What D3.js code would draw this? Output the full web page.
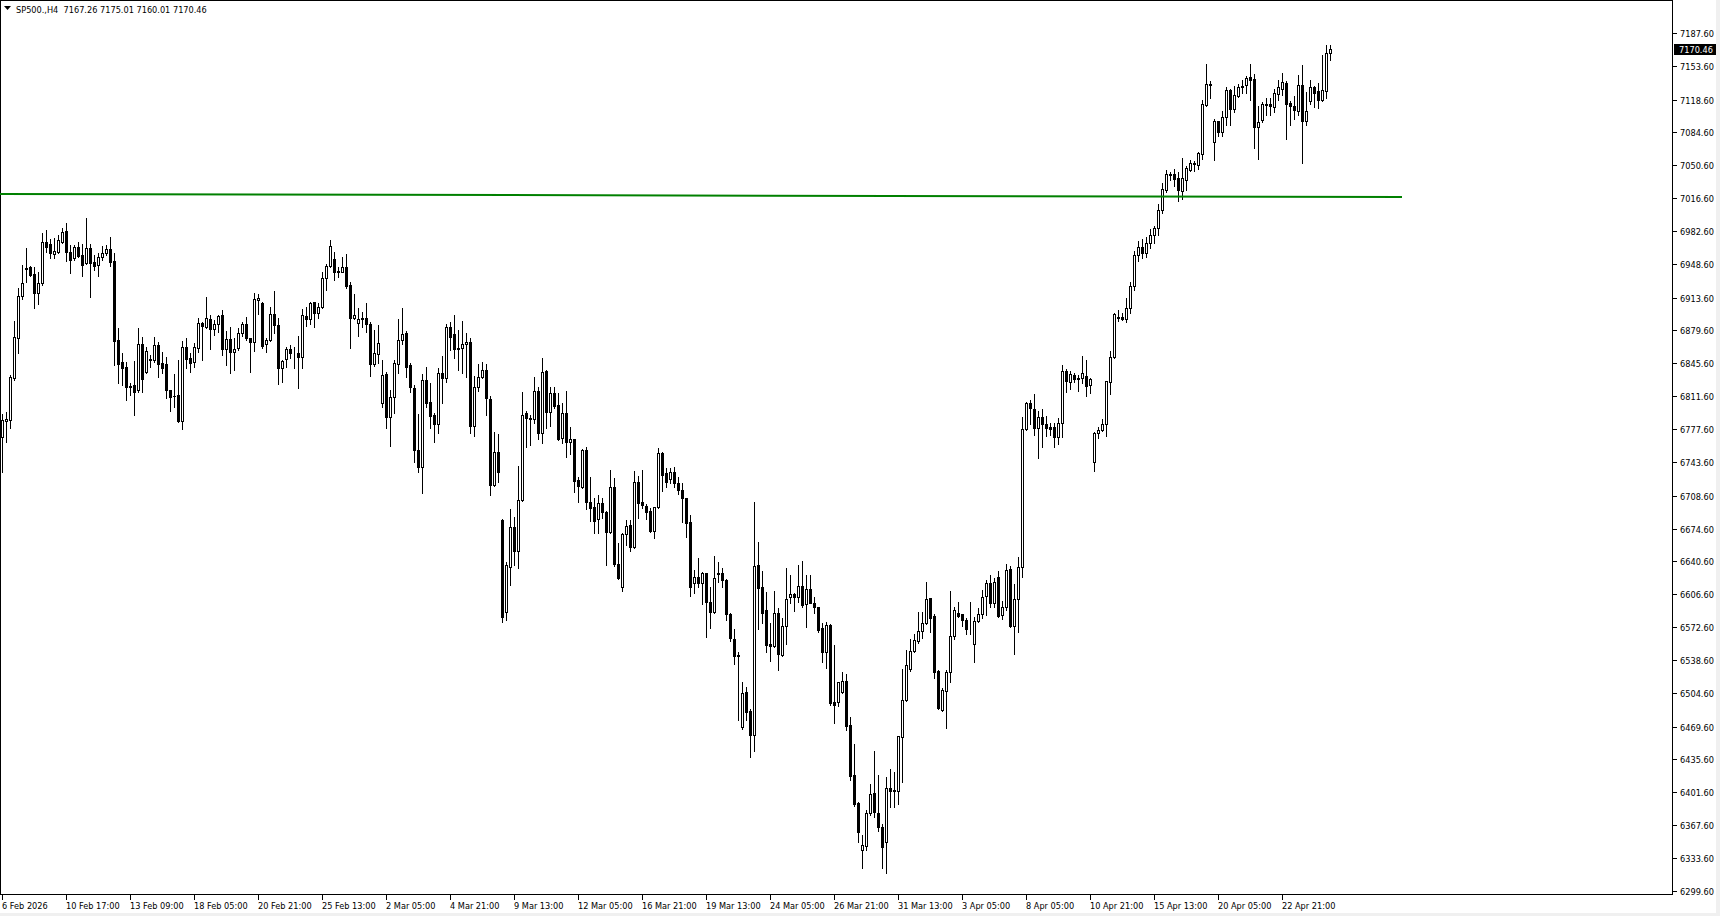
<!DOCTYPE html>
<html>
<head>
<meta charset="utf-8">
<script src="https://cdn.jsdelivr.net/npm/d3@7"></script>
<style>
  html, body { margin: 0; padding: 0; background: #fff; }
  #chart { width: 1720px; height: 916px; }
  text { font-family: "DejaVu Sans", Verdana, sans-serif; }
</style>
</head>
<body>
<div id="chart"></div>
<script>
// SP500 H4 candles (open / high / low / close)
const open = [6769.0,6786.0,6787.0,6830.1,6872.2,6915.7,6944.5,6945.7,6938.1,6918.8,6928.4,6970.9,6968.8,6959.1,6961.2,6971.6,6982.6,6960.5,6954.3,6966.0,6957.8,6949.1,6964.7,6950.2,6947.4,6955.3,6959.5,6964.0,6951.5,6869.8,6847.0,6841.8,6822.2,6823.2,6817.7,6865.6,6836.3,6848.7,6848.7,6864.6,6846.0,6844.6,6818.0,6812.2,6812.9,6786.3,6862.2,6851.5,6847.4,6861.2,6887.7,6883.6,6891.2,6880.8,6886.0,6895.7,6860.5,6870.8,6857.7,6861.8,6876.7,6886.3,6871.5,6868.1,6911.5,6907.7,6865.3,6869.8,6896.3,6885.3,6840.4,6849.8,6860.1,6856.0,6856.0,6851.8,6894.6,6891.5,6908.8,6897.4,6903.6,6933.6,6946.4,6953.6,6940.5,6940.5,6944.9,6926.6,6892.2,6887.7,6891.8,6892.2,6885.9,6844.5,6854.9,6804.2,6834.5,6790.4,6810.4,6844.5,6869.7,6876.6,6843.9,6819.7,6755.9,6737.9,6828.3,6805.9,6792.1,6782.4,6835.2,6830.7,6882.8,6875.6,6860.1,6861.1,6865.2,6867.3,6781.1,6821.4,6831.1,6838.7,6808.7,6719.7,6753.5,6683.4,6588.0,6635.2,6675.9,6651.7,6704.2,6794.6,6788.4,6788.0,6817.0,6773.2,6837.7,6795.6,6814.6,6802.5,6768.0,6793.9,6763.9,6767.0,6724.9,6718.0,6755.9,6702.5,6696.6,6684.5,6700.7,6692.1,6671.4,6717.3,6637.9,6613.8,6668.6,6678.3,6655.9,6723.1,6701.8,6697.9,6692.8,6672.4,6696.6,6752.5,6731.8,6726.0,6733.0,6722.0,6714.5,6705.9,6681.0,6617.9,6624.1,6618.6,6628.3,6598.9,6587.9,6627.9,6628.3,6621.4,6585.8,6559.9,6543.7,6468.9,6505.1,6486.1,6460.9,6636.9,6614.5,6590.3,6555.1,6553.4,6586.9,6543.7,6573.7,6604.1,6606.5,6603.4,6615.5,6596.2,6611.7,6597.9,6593.1,6572.0,6547.2,6574.8,6494.7,6495.4,6505.1,6516.8,6471.3,6419.5,6390.2,6341.9,6346.4,6379.8,6400.5,6379.8,6365.3,6350.5,6405.7,6403.3,6403.3,6459.2,6497.1,6528.9,6547.8,6558.2,6568.5,6576.5,6602.3,6584.1,6527.1,6486.8,6506.8,6526.5,6563.4,6586.8,6585.8,6579.9,6570.6,6554.7,6578.9,6585.8,6605.1,6617.9,6597.3,6624.2,6585.2,6593.8,6632.4,6574.2,6601.4,6634.5,6777.3,6804.3,6798.4,6778.4,6789.8,6782.9,6779.4,6779.4,6769.8,6783.6,6837.7,6826.0,6833.6,6830.1,6830.1,6832.9,6822.9,6743.2,6773.2,6776.7,6782.5,6826.7,6851.9,6892.2,6893.3,6891.2,6902.6,6926.0,6958.0,6966.0,6960.0,6970.0,6978.0,6985.7,7004.6,7025.3,7040.9,7041.5,7037.4,7024.3,7035.7,7045.3,7051.9,7051.2,7062.6,7113.3,7134.7,7074.3,7096.1,7085.0,7100.2,7128.1,7109.2,7121.9,7131.2,7133.3,7141.6,7139.9,7089.8,7097.8,7113.3,7114.0,7110.5,7124.7,7129.9,7135.7,7115.0,7111.6,7107.1,7133.3,7096.7,7116.7,7131.2,7127.8,7118.5,7127.8,7167.26];
const high = [6792.8,6795.6,6833.6,6889.4,6923.3,6947.4,6964.7,6946.7,6945.7,6940.5,6980.2,6983.6,6974.0,6975.0,6978.5,6985.4,6990.5,6968.1,6968.1,6971.5,6968.8,6995.7,6968.8,6957.8,6959.5,6966.7,6968.1,6976.0,6959.5,6881.9,6856.0,6847.4,6824.9,6848.0,6881.9,6873.2,6862.9,6854.3,6872.5,6868.0,6857.7,6852.5,6818.5,6834.6,6849.1,6868.7,6871.5,6856.0,6866.3,6892.2,6888.7,6914.6,6895.7,6890.5,6895.7,6900.8,6879.1,6882.9,6871.5,6881.8,6888.7,6893.2,6872.2,6918.1,6917.0,6908.8,6871.5,6903.6,6920.5,6892.2,6849.1,6862.9,6864.6,6862.9,6873.9,6901.9,6903.6,6908.8,6909.5,6907.7,6940.5,6948.1,6973.3,6960.5,6945.7,6956.0,6959.0,6929.4,6917.0,6902.5,6898.4,6907.7,6888.7,6880.1,6885.3,6849.0,6836.9,6818.0,6849.0,6891.5,6902.5,6879.0,6845.6,6823.2,6793.1,6834.5,6841.8,6824.9,6793.8,6840.4,6853.2,6885.9,6888.0,6895.6,6880.1,6889.7,6876.6,6872.1,6832.5,6844.5,6847.3,6844.5,6811.8,6774.9,6772.4,6684.5,6640.0,6694.9,6686.2,6739.7,6816.3,6796.3,6792.1,6831.1,6821.5,6850.8,6838.7,6821.5,6821.5,6814.6,6804.2,6817.0,6780.1,6767.3,6728.3,6757.0,6759.4,6728.3,6705.9,6709.4,6705.9,6692.8,6735.2,6726.6,6659.3,6669.7,6683.5,6683.5,6734.2,6729.0,6735.2,6699.7,6695.6,6697.3,6757.6,6753.5,6737.0,6737.0,6738.0,6728.0,6722.0,6706.5,6688.6,6631.7,6643.8,6630.0,6628.9,6614.5,6646.2,6640.3,6633.4,6622.0,6586.9,6570.3,6547.2,6516.1,6511.0,6487.5,6701.7,6661.0,6630.7,6609.3,6576.5,6610.3,6592.0,6581.7,6633.4,6626.5,6607.6,6636.9,6641.0,6626.5,6626.5,6604.1,6593.8,6576.5,6577.5,6575.5,6554.1,6516.1,6525.8,6524.0,6479.9,6451.6,6391.9,6357.4,6383.3,6410.2,6444.3,6419.5,6368.4,6417.8,6425.7,6422.9,6460.2,6529.2,6548.9,6560.3,6565.1,6588.6,6588.6,6619.6,6603.0,6585.8,6528.2,6509.2,6528.2,6609.9,6593.7,6598.2,6586.1,6581.7,6598.2,6583.4,6592.0,6611.0,6621.3,6626.5,6623.1,6630.7,6600.0,6637.6,6635.9,6617.3,6644.9,6790.4,6806.0,6807.7,6813.9,6796.3,6798.0,6791.1,6783.6,6784.3,6788.7,6843.9,6839.4,6838.1,6835.3,6833.6,6853.2,6849.1,6830.5,6774.9,6780.1,6788.0,6827.7,6858.4,6898.1,6900.9,6897.4,6912.9,6930.2,6962.0,6972.0,6974.0,6976.0,6985.0,6988.0,7010.8,7032.2,7046.0,7043.6,7046.7,7043.3,7058.1,7050.2,7056.4,7054.7,7064.3,7118.5,7155.7,7137.4,7098.5,7096.7,7106.4,7131.2,7129.5,7132.3,7134.7,7139.2,7142.6,7155.4,7145.0,7111.6,7116.1,7120.2,7120.2,7129.5,7138.5,7146.1,7137.4,7116.7,7121.9,7144.4,7154.0,7126.4,7139.2,7132.3,7135.7,7164.4,7175.4,7175.01];
const low = [6733.5,6764.5,6779.0,6828.4,6856.0,6912.2,6930.2,6936.4,6903.2,6907.4,6926.7,6961.2,6955.0,6955.0,6960.2,6969.8,6951.5,6939.5,6952.6,6956.0,6936.4,6948.1,6914.6,6942.2,6936.0,6952.6,6957.8,6946.4,6843.9,6825.6,6823.2,6807.7,6812.9,6792.1,6816.3,6816.3,6835.3,6842.2,6847.4,6831.8,6835.3,6809.4,6796.3,6800.8,6785.3,6777.3,6841.1,6837.0,6842.2,6857.7,6849.1,6882.5,6860.5,6875.0,6878.4,6854.2,6843.9,6836.0,6838.7,6859.4,6874.3,6869.8,6836.3,6858.4,6896.3,6861.2,6857.7,6868.7,6876.7,6823.9,6826.0,6842.2,6851.5,6840.4,6819.8,6840.4,6884.6,6886.3,6883.6,6892.9,6902.6,6921.5,6945.0,6931.9,6935.3,6939.8,6923.2,6861.8,6891.5,6874.2,6883.5,6878.4,6832.8,6843.2,6845.6,6800.7,6779.0,6760.4,6793.8,6835.2,6865.2,6831.8,6816.3,6743.1,6733.5,6711.0,6800.7,6779.0,6764.5,6773.8,6804.9,6825.9,6859.4,6851.4,6838.7,6835.2,6831.1,6773.8,6770.7,6816.9,6830.0,6792.1,6709.3,6719.0,6722.4,6578.0,6580.0,6616.2,6636.9,6634.1,6703.5,6759.4,6761.1,6783.5,6767.0,6762.8,6778.4,6781.1,6799.0,6766.3,6762.8,6748.3,6751.4,6712.8,6702.5,6716.9,6694.9,6682.8,6669.7,6669.7,6685.2,6636.9,6670.4,6635.9,6622.4,6610.3,6657.6,6651.7,6654.8,6685.2,6695.6,6684.5,6671.4,6665.2,6695.6,6713.8,6718.0,6722.0,6718.0,6710.0,6681.7,6666.2,6604.8,6607.6,6614.5,6596.5,6562.7,6571.3,6586.9,6619.6,6614.5,6579.9,6558.6,6534.4,6476.5,6466.8,6476.5,6438.5,6444.7,6570.6,6577.2,6547.2,6537.9,6552.4,6528.2,6542.7,6555.1,6597.9,6589.6,6598.9,6593.8,6573.1,6597.2,6587.5,6567.9,6536.8,6530.0,6492.0,6473.0,6491.3,6504.0,6466.1,6414.3,6387.8,6350.5,6322.9,6341.9,6378.1,6376.4,6361.5,6322.9,6317.7,6386.7,6386.7,6389.1,6411.9,6496.1,6527.1,6546.5,6555.8,6561.0,6575.4,6567.9,6519.5,6487.8,6485.7,6468.5,6515.4,6560.3,6583.4,6574.1,6565.1,6565.1,6536.1,6577.5,6582.3,6585.1,6593.7,6593.8,6582.8,6580.7,6590.3,6573.1,6544.8,6567.9,6624.2,6776.7,6782.9,6771.5,6747.3,6759.4,6770.4,6771.5,6759.4,6761.8,6769.1,6816.3,6818.7,6826.7,6817.4,6825.0,6812.2,6814.6,6734.6,6768.0,6776.0,6770.8,6813.6,6850.8,6889.8,6890.5,6888.8,6897.4,6922.0,6952.0,6955.0,6956.0,6965.0,6970.0,6978.7,7001.2,7022.9,7035.7,7029.5,7013.9,7016.0,7025.3,7045.0,7045.0,7047.1,7057.4,7111.6,7120.2,7056.4,7080.5,7080.5,7091.9,7091.9,7105.7,7120.9,7125.4,7125.4,7118.5,7068.4,7057.4,7095.4,7102.3,7103.0,7105.7,7118.5,7123.0,7078.1,7092.6,7098.8,7102.3,7052.9,7091.9,7114.0,7110.5,7109.8,7116.7,7120.2,7160.01];
const close = [6787.0,6788.0,6831.8,6872.5,6915.7,6928.4,6943.5,6937.1,6918.1,6928.4,6970.9,6966.4,6959.5,6961.9,6973.3,6981.9,6960.5,6952.6,6966.0,6957.1,6947.4,6964.7,6949.8,6946.0,6955.7,6959.5,6964.0,6950.2,6869.1,6845.3,6840.8,6821.5,6821.1,6816.3,6865.6,6829.4,6858.7,6850.5,6864.6,6845.3,6840.5,6818.0,6811.1,6811.5,6785.9,6862.2,6849.8,6846.3,6862.2,6887.0,6884.3,6892.2,6880.8,6886.0,6894.6,6860.5,6870.8,6857.7,6860.1,6876.7,6886.3,6871.5,6867.4,6911.9,6913.2,6863.9,6869.8,6896.3,6885.3,6840.4,6848.0,6860.5,6856.0,6856.3,6851.8,6895.7,6891.2,6907.7,6897.4,6903.6,6933.6,6946.4,6967.1,6940.5,6941.2,6944.9,6926.0,6892.8,6895.6,6891.1,6892.5,6885.9,6844.5,6855.9,6866.3,6833.5,6790.4,6810.4,6846.3,6869.7,6875.6,6842.1,6820.7,6755.9,6737.9,6828.3,6804.9,6791.4,6782.4,6835.2,6830.7,6882.8,6873.2,6860.1,6861.1,6865.2,6867.3,6781.1,6820.7,6831.1,6838.7,6809.4,6719.7,6753.5,6733.5,6583.4,6636.9,6675.9,6651.7,6704.2,6792.1,6788.7,6789.4,6817.0,6773.9,6836.3,6794.9,6814.6,6801.8,6767.3,6793.9,6763.9,6767.0,6724.2,6719.0,6755.9,6702.5,6696.2,6682.8,6700.7,6691.4,6671.4,6717.3,6637.6,6623.1,6668.6,6677.3,6655.9,6723.1,6701.4,6699.0,6692.1,6672.4,6696.6,6752.5,6730.1,6723.1,6733.0,6722.0,6715.0,6705.9,6680.7,6614.5,6624.1,6617.9,6628.3,6598.9,6588.6,6623.1,6628.6,6621.4,6585.8,6561.0,6543.0,6542.7,6504.1,6485.1,6460.9,6635.8,6613.4,6587.5,6554.1,6553.4,6586.9,6544.8,6573.7,6601.7,6606.5,6603.4,6615.5,6595.5,6611.7,6597.9,6593.1,6569.6,6547.2,6574.8,6493.7,6492.0,6515.4,6516.8,6470.6,6418.8,6389.1,6360.2,6347.1,6379.8,6399.5,6380.9,6365.3,6345.3,6405.7,6403.3,6404.0,6459.9,6497.1,6533.3,6547.8,6559.2,6568.5,6576.5,6601.7,6582.3,6526.5,6488.5,6507.5,6526.5,6563.4,6590.3,6584.4,6579.9,6570.6,6570.9,6578.9,6585.8,6604.1,6617.9,6597.2,6619.7,6584.5,6593.8,6631.7,6574.2,6601.4,6634.5,6777.3,6804.3,6799.1,6778.4,6789.8,6782.9,6778.4,6778.0,6769.1,6784.3,6837.7,6827.7,6834.3,6829.1,6829.4,6835.3,6822.5,6829.8,6773.2,6776.7,6782.9,6827.4,6851.9,6896.7,6893.3,6891.2,6902.6,6925.7,6958.0,6966.0,6960.0,6970.0,6978.0,6985.7,7004.6,7026.0,7041.5,7041.5,7036.7,7025.3,7037.4,7047.7,7052.9,7052.9,7063.3,7114.0,7134.7,7133.3,7096.1,7085.0,7100.2,7128.1,7109.2,7123.0,7131.2,7132.3,7140.9,7139.2,7089.8,7095.0,7114.0,7114.0,7111.6,7125.4,7131.2,7136.8,7114.3,7111.6,7108.1,7133.3,7096.7,7107.1,7131.2,7125.4,7118.5,7128.8,7166.8,7170.46];

// axis labels
const priceTicks = ['7187.60','7153.60','7118.60','7084.60','7050.60','7016.60','6982.60','6948.60','6913.60','6879.60','6845.60','6811.60','6777.60','6743.60','6708.60','6674.60','6640.60','6606.60','6572.60','6538.60','6504.60','6469.60','6435.60','6401.60','6367.60','6333.60','6299.60'];
const timeLabels = ['6 Feb 2026','10 Feb 17:00','13 Feb 09:00','18 Feb 05:00','20 Feb 21:00','25 Feb 13:00','2 Mar 05:00','4 Mar 21:00','9 Mar 13:00','12 Mar 05:00','16 Mar 21:00','19 Mar 13:00','24 Mar 05:00','26 Mar 21:00','31 Mar 13:00','3 Apr 05:00','8 Apr 05:00','10 Apr 21:00','15 Apr 13:00','20 Apr 05:00','22 Apr 21:00'];
const barsPerLabel = 16;

// horizontal-ish trend line (bar index, price)
const trendBars = [-0.5, 350];
const trendPrices = [7020.9, 7017.7];

const symbol = 'SP500.,H4';

const W = 1720, H = 916;
const plotRight = 1672, plotBottom = 894;
const fontSize = '8.2px';

const svg = d3.select('#chart').append('svg')
    .attr('width', W)
    .attr('height', H)
    .attr('shape-rendering', 'crispEdges');

// window edges
svg.append('rect').attr('x', 0).attr('y', 0).attr('width', W).attr('height', H).attr('fill', '#fff');
svg.append('rect').attr('x', W - 4).attr('y', 0).attr('width', 4).attr('height', H).attr('fill', '#f0f0f0');
svg.append('rect').attr('x', 0).attr('y', H - 3).attr('width', W).attr('height', 3).attr('fill', '#f0f0f0');

const x = d3.scaleLinear().domain([0, 1]).range([2, 6]);
const y = d3.scaleLinear().domain([6299.6, 7187.6]).range([890.9, 32.9]);
const px = v => Math.round(y(v));

const bars = d3.range(open.length).map(i => ({
    i, o: open[i], h: high[i], l: low[i], c: close[i]
}));

// plot frame
svg.append('rect')
    .attr('x', 0.5).attr('y', 0.5)
    .attr('width', plotRight).attr('height', plotBottom)
    .attr('fill', 'none').attr('stroke', '#000');

const g = svg.append('g');

// wicks
g.selectAll('line.wick')
    .data(bars)
    .enter()
    .append('line')
    .attr('class', 'wick')
    .attr('x1', d => Math.round(x(d.i)) + 0.5)
    .attr('x2', d => Math.round(x(d.i)) + 0.5)
    .attr('y1', d => px(d.h))
    .attr('y2', d => px(d.l) + 1)
    .attr('stroke', '#000');

// bodies
g.selectAll('rect.body')
    .data(bars)
    .enter()
    .append('rect')
    .attr('class', 'body')
    .attr('x', d => Math.round(x(d.i)) - 1 + (d.c >= d.o ? 0.5 : 0))
    .attr('y', d => px(Math.max(d.o, d.c)) + (d.c >= d.o ? 0.5 : 0))
    .attr('width', d => d.c >= d.o ? 2 : 3)
    .attr('height', d => {
        const hgt = px(Math.min(d.o, d.c)) - px(Math.max(d.o, d.c));
        return d.c >= d.o ? Math.max(hgt, 0) : Math.max(hgt + 1, 1);
    })
    .attr('fill', d => d.c >= d.o ? '#fff' : '#000')
    .attr('stroke', d => d.c >= d.o ? '#000' : 'none');

// trend line
svg.append('line')
    .attr('x1', 0).attr('x2', x(trendBars[1]))
    .attr('y1', y(trendPrices[0])).attr('y2', y(trendPrices[1]))
    .attr('stroke', '#008000')
    .attr('stroke-width', 2)
    .attr('shape-rendering', 'auto');

// price axis
const yAxis = svg.append('g');
yAxis.selectAll('line')
    .data(priceTicks)
    .enter()
    .append('line')
    .attr('x1', plotRight + 1).attr('x2', plotRight + 5)
    .attr('y1', d => px(+d) + 0.5).attr('y2', d => px(+d) + 0.5)
    .attr('stroke', '#000');
yAxis.selectAll('text')
    .data(priceTicks)
    .enter()
    .append('text')
    .attr('x', plotRight + 8)
    .attr('y', d => px(+d) + 3.5)
    .attr('font-size', fontSize)
    .attr('fill', '#000')
    .text(d => d);

// current price marker
const last = close[close.length - 1];
svg.append('rect')
    .attr('x', plotRight + 2).attr('y', px(last) - 5)
    .attr('width', 42).attr('height', 11)
    .attr('fill', '#000');
svg.append('text')
    .attr('x', plotRight + 7).attr('y', px(last) + 3.5)
    .attr('font-size', fontSize)
    .attr('fill', '#fff')
    .text(last.toFixed(2));

// time axis
const xAxis = svg.append('g');
const timeTicks = timeLabels.map((t, k) => ({ t, i: k * barsPerLabel }));
xAxis.selectAll('line')
    .data(timeTicks)
    .enter()
    .append('line')
    .attr('x1', d => Math.round(x(d.i)) + 0.5).attr('x2', d => Math.round(x(d.i)) + 0.5)
    .attr('y1', plotBottom + 1).attr('y2', plotBottom + 6)
    .attr('stroke', '#000');
xAxis.selectAll('text')
    .data(timeTicks)
    .enter()
    .append('text')
    .attr('x', d => Math.round(x(d.i)))
    .attr('y', plotBottom + 15)
    .attr('font-size', fontSize)
    .attr('fill', '#000')
    .text(d => d.t);

// header
svg.append('path')
    .attr('d', 'M4,6 L11,6 L7.5,10 Z')
    .attr('fill', '#000')
    .attr('shape-rendering', 'auto');
svg.append('text')
    .attr('x', 16).attr('y', 13)
    .attr('font-size', fontSize)
    .attr('fill', '#000')
    .attr('xml:space', 'preserve')
    .style('white-space', 'pre')
    .text(`${symbol}  ${open[open.length - 1].toFixed(2)} ${high[high.length - 1].toFixed(2)} ${low[low.length - 1].toFixed(2)} ${last.toFixed(2)}`);
</script>
</body>
</html>
